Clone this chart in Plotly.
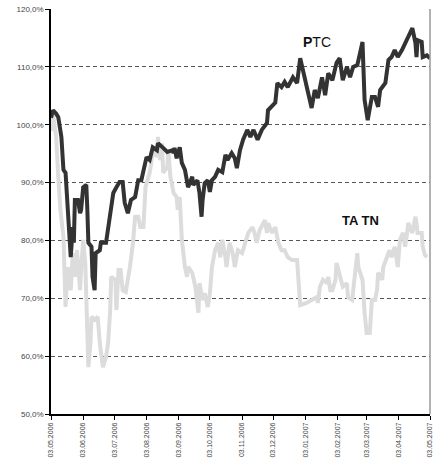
import plotly.graph_objects as go

ptc_dates = [
    "2006-05-03", "2006-05-05", "2006-05-08", "2006-05-10", "2006-05-13", "2006-05-15", "2006-05-17",
    "2006-05-19", "2006-05-21", "2006-05-22", "2006-05-24", "2006-05-25", "2006-05-26", "2006-05-29",
    "2006-05-31", "2006-06-01", "2006-06-03", "2006-06-06", "2006-06-07", "2006-06-08", "2006-06-11",
    "2006-06-12", "2006-06-14", "2006-06-15", "2006-06-19", "2006-06-20", "2006-06-25", "2006-06-27",
    "2006-06-29", "2006-07-02", "2006-07-05", "2006-07-08", "2006-07-11", "2006-07-13", "2006-07-16",
    "2006-07-19", "2006-07-23", "2006-07-26", "2006-07-29", "2006-08-02", "2006-08-03", "2006-08-06",
    "2006-08-09", "2006-08-13", "2006-08-14", "2006-08-19", "2006-08-23", "2006-08-28", "2006-08-29",
    "2006-08-30", "2006-09-01", "2006-09-04", "2006-09-06", "2006-09-09", "2006-09-11", "2006-09-12",
    "2006-09-16", "2006-09-17", "2006-09-21", "2006-09-23", "2006-09-25", "2006-09-26", "2006-09-28",
    "2006-10-01", "2006-10-03", "2006-10-05", "2006-10-08", "2006-10-11", "2006-10-15", "2006-10-18",
    "2006-10-20", "2006-10-24", "2006-10-27", "2006-10-29", "2006-11-01", "2006-11-04", "2006-11-08",
    "2006-11-11", "2006-11-14", "2006-11-18", "2006-11-22", "2006-11-27", "2006-11-28", "2006-12-02",
    "2006-12-05", "2006-12-07", "2006-12-11", "2006-12-14", "2006-12-17", "2006-12-22", "2006-12-26",
    "2006-12-29", "2007-01-01", "2007-01-05", "2007-01-09", "2007-01-12", "2007-01-15", "2007-01-19",
    "2007-01-22", "2007-01-25", "2007-01-29", "2007-02-01", "2007-02-02", "2007-02-05", "2007-02-08",
    "2007-02-12", "2007-02-15", "2007-02-18", "2007-02-22", "2007-02-27", "2007-02-28", "2007-03-01",
    "2007-03-04", "2007-03-08", "2007-03-11", "2007-03-14", "2007-03-16", "2007-03-21", "2007-03-24",
    "2007-03-27", "2007-03-30", "2007-04-02", "2007-04-06", "2007-04-09", "2007-04-12", "2007-04-16",
    "2007-04-19", "2007-04-20", "2007-04-21", "2007-04-25", "2007-04-26", "2007-04-30", "2007-05-03",
]
ptc_values = [
    101.2, 102.5, 101.9, 101.3, 97.9, 92.2, 91.7,
    85.3, 78.3, 77.1, 82.3, 79.6, 87.0, 87.0,
    84.7, 85.3, 89.2, 89.6, 85.3, 79.6, 78.9,
    73.7, 71.4, 77.8, 78.3, 79.6, 79.6, 82.3,
    85.3, 88.2, 89.2, 90.1, 90.1, 86.5, 84.7,
    87.0, 87.5, 90.4, 90.4, 93.9, 94.4, 93.9,
    96.1, 95.6, 96.8, 96.0, 95.3, 95.6, 95.1,
    96.0, 94.2, 96.1, 93.4, 92.2, 90.4, 89.2,
    91.0, 89.6, 90.4, 88.2, 84.1, 87.0, 89.9,
    90.4, 88.4, 90.4, 91.0, 92.2, 91.8, 94.8,
    93.9, 95.1, 94.2, 92.5, 95.6, 97.4, 99.1,
    97.9, 99.1, 97.4, 99.1, 100.3, 102.5, 103.4,
    103.8, 107.2, 106.5, 107.4, 106.5, 108.2, 107.2,
    111.5, 108.9, 106.0, 102.9, 106.0, 104.6, 108.2,
    105.1, 108.9, 107.7, 109.5, 110.7, 111.5, 107.7,
    110.0, 108.2, 110.0, 110.3, 114.3, 110.0, 104.3,
    100.8, 104.8, 104.8, 103.1, 106.0, 107.2, 111.2,
    111.7, 112.9, 111.7, 112.9, 114.1, 115.2, 116.7,
    114.1, 111.7, 114.6, 114.3, 111.7, 112.0, 111.5,
]

tatn_dates = [
    "2006-05-03", "2006-05-05", "2006-05-07", "2006-05-08", "2006-05-10", "2006-05-12", "2006-05-15",
    "2006-05-16", "2006-05-17", "2006-05-19", "2006-05-22", "2006-05-24", "2006-05-26", "2006-05-28",
    "2006-05-31", "2006-06-01", "2006-06-03", "2006-06-05", "2006-06-06", "2006-06-08", "2006-06-10",
    "2006-06-11", "2006-06-14", "2006-06-17", "2006-06-19", "2006-06-22", "2006-06-25", "2006-06-27",
    "2006-06-29", "2006-06-30", "2006-07-04", "2006-07-05", "2006-07-07", "2006-07-09", "2006-07-11",
    "2006-07-14", "2006-07-18", "2006-07-19", "2006-07-21", "2006-07-23", "2006-07-26", "2006-07-28",
    "2006-07-31", "2006-08-02", "2006-08-04", "2006-08-06", "2006-08-09", "2006-08-11", "2006-08-13",
    "2006-08-14", "2006-08-16", "2006-08-18", "2006-08-19", "2006-08-23", "2006-08-24", "2006-08-26",
    "2006-08-28", "2006-08-29", "2006-09-01", "2006-09-02", "2006-09-04", "2006-09-06", "2006-09-09",
    "2006-09-11", "2006-09-12", "2006-09-16", "2006-09-19", "2006-09-22", "2006-09-23", "2006-09-26",
    "2006-09-28", "2006-10-01", "2006-10-03", "2006-10-05", "2006-10-08", "2006-10-11", "2006-10-13",
    "2006-10-15", "2006-10-18", "2006-10-19", "2006-10-22", "2006-10-25", "2006-10-27", "2006-10-30",
    "2006-11-03", "2006-11-06", "2006-11-09", "2006-11-13", "2006-11-15", "2006-11-17", "2006-11-20",
    "2006-11-25", "2006-11-27", "2006-11-28", "2006-12-02", "2006-12-05", "2006-12-08", "2006-12-11",
    "2006-12-14", "2006-12-17", "2006-12-21", "2006-12-26", "2006-12-27", "2006-12-29", "2007-01-04",
    "2007-01-10", "2007-01-14", "2007-01-15", "2007-01-17", "2007-01-20", "2007-01-24", "2007-01-25",
    "2007-01-27", "2007-01-29", "2007-02-01", "2007-02-02", "2007-02-05", "2007-02-08", "2007-02-12",
    "2007-02-13", "2007-02-17", "2007-02-18", "2007-02-22", "2007-02-23", "2007-02-27", "2007-03-01",
    "2007-03-03", "2007-03-06", "2007-03-08", "2007-03-11", "2007-03-13", "2007-03-14", "2007-03-18",
    "2007-03-19", "2007-03-23", "2007-03-25", "2007-03-27", "2007-03-30", "2007-04-02", "2007-04-04",
    "2007-04-07", "2007-04-09", "2007-04-11", "2007-04-12", "2007-04-16", "2007-04-19", "2007-04-20",
    "2007-04-21", "2007-04-25", "2007-04-26", "2007-04-28", "2007-04-30",
]
tatn_values = [
    98.9, 101.7, 99.1, 97.9, 91.0, 85.3, 80.6,
    74.9, 68.5, 75.4, 71.4, 77.8, 73.7, 78.3,
    71.4, 74.9, 80.1, 76.1, 68.0, 58.1, 62.3,
    66.8, 66.3, 66.8, 62.3, 58.1, 59.9, 62.3,
    68.0, 73.7, 73.2, 68.0, 74.9, 74.9, 71.4,
    71.1, 75.4, 76.6, 79.6, 84.1, 84.1, 82.3,
    82.3, 89.2, 90.4, 91.7, 95.1, 96.1, 94.4,
    97.9, 93.9, 96.8, 91.7, 92.7, 95.6, 91.0,
    89.2, 88.2, 87.5, 85.3, 87.5, 80.1, 75.4,
    73.7, 75.4, 74.4, 72.0, 67.5, 72.6, 69.7,
    70.9, 68.5, 70.9, 75.4, 78.3, 79.6, 77.1,
    80.1, 77.1, 75.4, 79.6, 77.8, 75.4, 78.3,
    77.8, 79.6, 81.3, 82.3, 81.3, 79.6, 81.8,
    83.5, 81.3, 83.0, 81.3, 82.3, 79.6, 78.3,
    78.3, 77.1, 76.6, 76.6, 73.2, 68.8, 69.2,
    69.7, 70.2, 69.2, 72.0, 73.2, 72.6, 73.7,
    71.4, 71.4, 73.2, 76.1, 73.7, 72.0, 72.6,
    70.2, 69.7, 71.4, 77.8, 75.4, 73.2, 67.5,
    64.0, 64.0, 69.7, 69.7, 71.4, 74.4, 73.2,
    75.4, 77.1, 78.3, 77.1, 78.9, 75.4, 80.1,
    81.3, 78.9, 81.3, 83.0, 81.3, 84.1, 83.0,
    81.3, 81.3, 78.9, 77.5, 77.1,
]

x_tick_dates = [
    "2006-05-03", "2006-06-03", "2006-07-03", "2006-08-03", "2006-09-03", "2006-10-03", "2006-11-03",
    "2006-12-03", "2007-01-03", "2007-02-03", "2007-03-03", "2007-04-03", "2007-05-03",
]
x_tick_labels = [
    "03.05.2006", "03.06.2006", "03.07.2006", "03.08.2006", "03.09.2006", "03.10.2006", "03.11.2006",
    "03.12.2006", "03.01.2007", "03.02.2007", "03.03.2007", "03.04.2007", "03.05.2007",
]
y_tick_vals = [50, 60, 70, 80, 90, 100, 110, 120]
y_tick_labels = ["50,0%", "60,0%", "70,0%", "80,0%", "90,0%", "100,0%", "110,0%", "120,0%"]

fig = go.Figure()
fig.add_trace(go.Scatter(x=tatn_dates, y=tatn_values, mode="lines", name="TATN",
                         line=dict(color="#dcdcdc", width=4), cliponaxis=False))
fig.add_trace(go.Scatter(x=ptc_dates, y=ptc_values, mode="lines", name="PTC",
                         line=dict(color="#333333", width=4), cliponaxis=False))

fig.add_annotation(x="2007-01-14", y=114.3, text="<b>P</b>TC", showarrow=False,
                   font=dict(family="Liberation Sans", size=14, color="#111111"))
fig.add_annotation(x="2007-02-25", y=83.4, text="<b>TA TN</b>", showarrow=False,
                   font=dict(family="Liberation Sans", size=13, color="#111111"))

fig.add_shape(type="line", xref="paper", yref="paper", x0=1, x1=1, y0=0, y1=1,
              line=dict(color="#999999", width=1.5))

fig.update_layout(
    width=441, height=461,
    margin=dict(l=51, r=11, t=9, b=47),
    paper_bgcolor="white", plot_bgcolor="white",
    showlegend=False,
    font=dict(family="Liberation Sans", color="#444444"),
    xaxis=dict(
        type="date", range=["2006-05-03", "2007-05-03"], automargin=False,
        tickvals=x_tick_dates, ticktext=x_tick_labels, tickangle=-90,
        tickfont=dict(size=7, color="#444444"),
        showgrid=False, zeroline=False,
        showline=True, linecolor="black", linewidth=1.5,
        ticks="outside", ticklen=4, tickcolor="black", tickwidth=1,
    ),
    yaxis=dict(
        range=[50, 120], tickvals=y_tick_vals, ticktext=y_tick_labels, automargin=False,
        tickfont=dict(size=8, color="#444444"),
        showgrid=True, gridcolor="#555555", gridwidth=1, griddash="4px,3px",
        zeroline=False,
        showline=True, linecolor="black", linewidth=1.5,
        ticks="outside", ticklen=4, tickcolor="black",
    ),
)

fig.write_html("out.html", config={"displayModeBar": False},
               post_script="document.body.style.margin='0';document.body.style.overflow='hidden';")
